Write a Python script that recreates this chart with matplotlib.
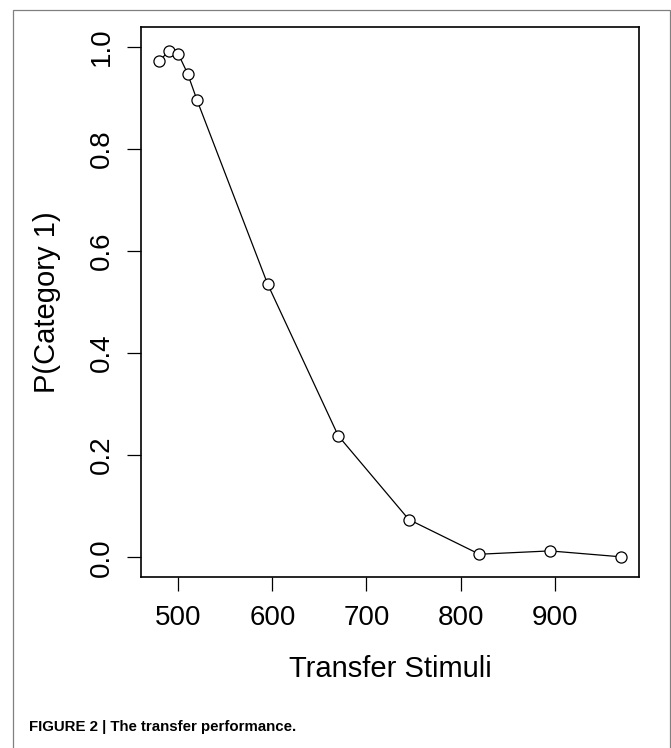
import matplotlib
matplotlib.use("Agg")
import matplotlib.pyplot as plt
from matplotlib import font_manager
from matplotlib.patches import Rectangle

# transfer stimuli and probability of category 1 responses
stimuli = [480, 490, 500, 510, 520, 595, 670, 745, 820, 895, 970]
p_cat1 = [0.972, 0.992, 0.986, 0.947, 0.895, 0.535, 0.238, 0.074, 0.006, 0.0125, 0.001]

x_ticks = [500, 600, 700, 800, 900]
y_ticks = [0.0, 0.2, 0.4, 0.6, 0.8, 1.0]
y_ticklabels = ["0.0", "0.2", "0.4", "0.6", "0.8", "1.0"]

plt.rcParams["font.family"] = ["Liberation Sans", "DejaVu Sans"]

# caption is set in a condensed bold face; use one if installed
installed = {f.name for f in font_manager.fontManager.ttflist}
cap_family, cap_size = "Liberation Sans", 10.8
for name in ["Liberation Sans Narrow", "DejaVu Sans Condensed"]:
    if name in installed:
        cap_family, cap_size = name, 12.5
        break

W, H = 671, 748
fig = plt.figure(figsize=(W / 100, H / 100), dpi=100)
ax = fig.add_axes([141 / W, 1 - 577 / H, (639 - 141) / W, (577 - 27) / H])

ax.plot(stimuli, p_cat1, color="black", lw=0.9, marker="o", ms=8,
        mfc="white", mec="black", mew=0.9)

# R-style padded limits
ax.set_xlim(460.4, 989.6)
ax.set_ylim(-0.0386, 1.0386)

ax.set_xticks(x_ticks)
ax.set_xticklabels([str(t) for t in x_ticks])
ax.set_yticks(y_ticks)
ax.set_yticklabels(y_ticklabels, rotation=90, va="center")
ax.tick_params(axis="both", length=10, width=0.9, labelsize=20, direction="out")
ax.tick_params(axis="x", pad=10)
ax.tick_params(axis="y", pad=9)

for s in ax.spines.values():
    s.set_linewidth(1.2)

ax.set_xlabel("Transfer Stimuli", fontsize=21)
ax.xaxis.set_label_coords(0.5, (577 - 669) / 550)
ax.xaxis.label.set_va("center")
ax.set_ylabel("P(Category 1)", fontsize=21)
ax.yaxis.set_label_coords((47 - 141) / 498, 0.5)
ax.yaxis.label.set_va("center")

# outer frame of the figure panel
fig.patches.append(Rectangle((12.5 / W, -0.1), (669.5 - 12.5) / W, 1.1 - 10 / H,
                             transform=fig.transFigure, fill=False,
                             edgecolor="#808080", lw=0.9))

fig.text(29 / W, 1 - 727 / H, "FIGURE 2 | The transfer performance.",
         family=cap_family, weight="bold",
         fontsize=cap_size, va="center", ha="left")

fig.savefig("out.png", dpi=100)
